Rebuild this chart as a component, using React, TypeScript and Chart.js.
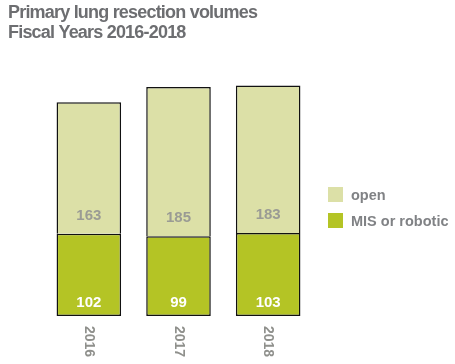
import React, { useEffect, useRef } from "react";
import { Chart, registerables } from "chart.js";

Chart.register(...registerables);

const titleLines = ["Primary lung resection volumes", "Fiscal Years 2016-2018"];
const years = ["2016", "2017", "2018"];
const misRobotic = [102, 99, 103];
const openSurgery = [163, 185, 183];
const seriesNames = ["open", "MIS or robotic"];

const OPEN_COLOR = "#dce0a7";
const MIS_COLOR = "#b4c425";
const GRAY = "#6d6e71";
const LIGHT_GRAY = "#8f908c";
const FONT = "'Liberation Sans', Arial, sans-serif";

const decorPlugin = {
  id: "decor",
  afterDatasetsDraw(chart: any) {
    const ctx = chart.ctx as CanvasRenderingContext2D;
    ctx.save();
    // Title
    ctx.fillStyle = GRAY;
    ctx.font = `bold 18px ${FONT}`;
    (ctx as any).letterSpacing = "-0.8px";
    ctx.textAlign = "left";
    ctx.textBaseline = "alphabetic";
    ctx.fillText(titleLines[0], 8, 18);
    ctx.fillText(titleLines[1], 8, 38);
    (ctx as any).letterSpacing = "0px";

    // Value labels
    const misMeta = chart.getDatasetMeta(0);
    const openMeta = chart.getDatasetMeta(1);
    ctx.textAlign = "center";
    ctx.textBaseline = "middle";
    ctx.font = `bold 15px ${FONT}`;
    misMeta.data.forEach((bar: any, i: number) => {
      ctx.fillStyle = "#ffffff";
      ctx.fillText(String(misRobotic[i]), bar.x, bar.base - 13);
    });
    openMeta.data.forEach((bar: any, i: number) => {
      ctx.fillStyle = "#9a9b94";
      ctx.fillText(String(openSurgery[i]), bar.x, bar.base - 18);
    });

    // Rotated x labels (reading top to bottom)
    const xScale = chart.scales.x;
    ctx.font = `bold 14px ${FONT}`;
    ctx.fillStyle = LIGHT_GRAY;
    years.forEach((y, i) => {
      const x = xScale.getPixelForValue(i);
      ctx.save();
      ctx.translate(x, chart.chartArea.bottom + 10);
      ctx.rotate(Math.PI / 2);
      ctx.textAlign = "left";
      ctx.textBaseline = "middle";
      ctx.fillText(y, 0, 0);
      ctx.restore();
    });

    // Legend
    const legendX = 328;
    const items = [
      { label: seriesNames[0], color: OPEN_COLOR, y: 194.5 },
      { label: seriesNames[1], color: MIS_COLOR, y: 220.5 },
    ];
    ctx.font = `bold 14.5px ${FONT}`;
    ctx.textAlign = "left";
    ctx.textBaseline = "middle";
    items.forEach((it) => {
      ctx.fillStyle = it.color;
      ctx.fillRect(legendX, it.y - 7.5, 15, 15);
      ctx.fillStyle = "#808285";
      ctx.fillText(it.label, 351, it.y + 1);
    });
    ctx.restore();
  },
};

export default function App() {
  const canvasRef = useRef<HTMLCanvasElement | null>(null);

  useEffect(() => {
    if (!canvasRef.current) return;
    const chart = new Chart(canvasRef.current, {
      type: "bar",
      data: {
        labels: years,
        datasets: [
          {
            label: seriesNames[1],
            data: misRobotic,
            backgroundColor: MIS_COLOR,
            borderColor: "#111111",
            borderWidth: 1.5,
            borderSkipped: false,
            categoryPercentage: 0.72,
            barPercentage: 1,
          },
          {
            label: seriesNames[0],
            data: openSurgery,
            backgroundColor: OPEN_COLOR,
            borderColor: "#111111",
            borderWidth: 1.5,
            borderSkipped: "start",
            categoryPercentage: 0.72,
            barPercentage: 1,
          },
        ],
      },
      options: {
        responsive: false,
        animation: false,
        layout: { padding: { left: 44, right: 142, top: 58, bottom: 48 } },
        plugins: {
          legend: { display: false },
          title: { display: false },
          tooltip: { enabled: false },
        },
        scales: {
          x: { stacked: true, display: false },
          y: { stacked: true, display: false, min: 0, max: 320 },
        },
      },
      plugins: [decorPlugin],
    });
    return () => chart.destroy();
  }, []);

  return (
    <div style={{ position: "absolute", left: 0, top: 0, width: 455, height: 364, background: "#ffffff" }}>
      <canvas ref={canvasRef} width={455} height={364} />
    </div>
  );
}
